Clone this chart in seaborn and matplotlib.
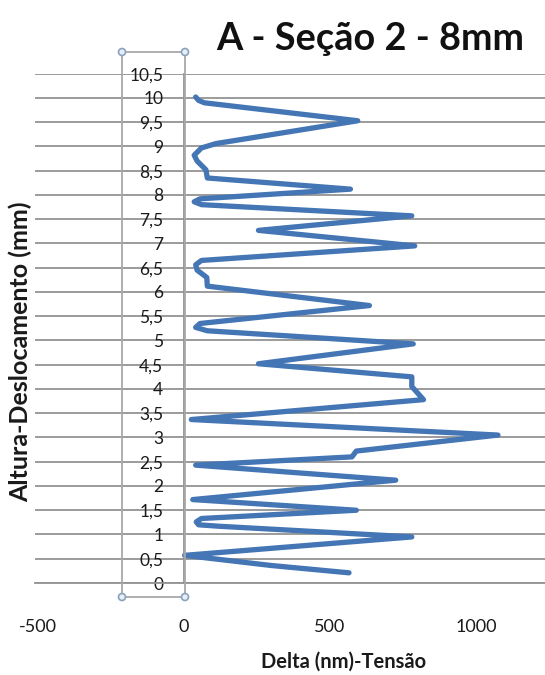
import matplotlib
matplotlib.use("Agg")
import matplotlib.pyplot as plt
import seaborn as sns
import pandas as pd
from matplotlib.patches import Circle
from matplotlib.lines import Line2D

# ---- data ----
delta = [565, 300, 2, 780, 120, 50, 42, 60, 590, 30, 725, 40, 575, 590, 1075, 25,
         820, 780, 780, 255, 785, 80, 40, 55, 635, 80, 78, 45, 40, 60, 790, 255,
         780, 60, 35, 55, 570, 80, 75, 45, 35, 60, 110, 595, 70, 50, 40]
altura = [0.21, 0.36, 0.57, 0.95, 1.17, 1.2, 1.26, 1.33, 1.50, 1.72, 2.12, 2.43,
          2.60, 2.72, 3.05, 3.37, 3.78, 4.05, 4.25, 4.52, 4.93, 5.2, 5.27, 5.35,
          5.72, 6.12, 6.30, 6.45, 6.56, 6.65, 6.95, 7.27, 7.57, 7.8, 7.86, 7.92,
          8.12, 8.35, 8.52, 8.7, 8.82, 8.97, 9.06, 9.53, 9.9, 9.95, 10.02]
y_ticks = [0, 0.5, 1, 1.5, 2, 2.5, 3, 3.5, 4, 4.5, 5, 5.5, 6, 6.5, 7, 7.5, 8,
           8.5, 9, 9.5, 10, 10.5]
y_tick_labels = ["0", "0,5", "1", "1,5", "2", "2,5", "3", "3,5", "4", "4,5", "5",
                 "5,5", "6", "6,5", "7", "7,5", "8", "8,5", "9", "9,5", "10", "10,5"]
x_ticks = [-500, 0, 500, 1000]
x_tick_labels = ["-500", "0", "500", "1000"]
title = "A - Seção 2 - 8mm"
x_label = "Delta (nm)-Tensão"
y_label = "Altura-Deslocamento (mm)"

df = pd.DataFrame({"delta": delta, "altura": altura})

sns.set_theme(style="white")
plt.rcParams["font.family"] = ["Lato", "DejaVu Sans"]

W, H = 545, 675
fig = plt.figure(figsize=(W / 100, H / 100), dpi=100)
ax = fig.add_axes([35 / W, 1 - 583 / H, (W - 35) / W, (583 - 73.7) / H])

grid_c = "#939393"
sns.lineplot(data=df, x="delta", y="altura", sort=False, ax=ax,
             color="#4475b4", linewidth=3.8, estimator=None)
for l in ax.get_lines():
    l.set_solid_joinstyle("round")
    l.set_solid_capstyle("round")

ax.set_xlim(-510, 1236)
ax.set_ylim(0, 10.5)
ax.set_yticks(y_ticks)
ax.set_yticklabels(y_tick_labels)
ax.set_xticks(x_ticks)
ax.set_xticklabels(x_tick_labels)
ax.yaxis.grid(True, color=grid_c, linewidth=1.3)
ax.xaxis.grid(False)
ax.set_xlabel("")
ax.set_ylabel("")

for s in ["top", "right"]:
    ax.spines[s].set_visible(False)
ax.spines["left"].set_position(("data", 0))
ax.spines["left"].set_color(grid_c)
ax.spines["left"].set_linewidth(1.3)
ax.spines["bottom"].set_color(grid_c)
ax.spines["bottom"].set_linewidth(1.3)
ax.tick_params(axis="y", length=0, pad=15, labelsize=12.5, labelcolor="#1a1a1a")
ax.tick_params(axis="x", length=0, pad=26, labelsize=13, labelcolor="#1a1a1a")

# selection box drawn around the vertical axis labels (pixel decoration)
bx0, bx1, by0, by1 = 122 / W, 185 / W, 1 - 52 / H, 1 - 597 / H
for xs, ys in [([bx0, bx1], [by0, by0]), ([bx0, bx1], [by1, by1]),
               ([bx0, bx0], [by0, by1]), ([bx1, bx1], [by0, by1])]:
    fig.add_artist(Line2D(xs, ys, transform=fig.transFigure, color="#a8a8a8", lw=1.3))
for cx, cy in [(bx0, by0), (bx1, by0), (bx0, by1), (bx1, by1)]:
    fig.add_artist(Circle((cx * W, (cy) * H), 3.5, transform=None, facecolor="#e8eef5",
                          edgecolor="#8aa2bd", lw=1.2, zorder=10))

fig.text(370 / W, 1 - 39 / H, title, ha="center", va="center", fontsize=27.3,
         fontweight="bold", color="#111111")
fig.text(344 / W, 1 - 662 / H, x_label, ha="center", va="center", fontsize=14.5,
         fontweight="bold", color="#1a1a1a")
fig.text(20 / W, 1 - 352 / H, y_label, ha="center", va="center", fontsize=18,
         fontweight="bold", rotation=90, color="#1a1a1a")

fig.savefig("out.png", dpi=100)
